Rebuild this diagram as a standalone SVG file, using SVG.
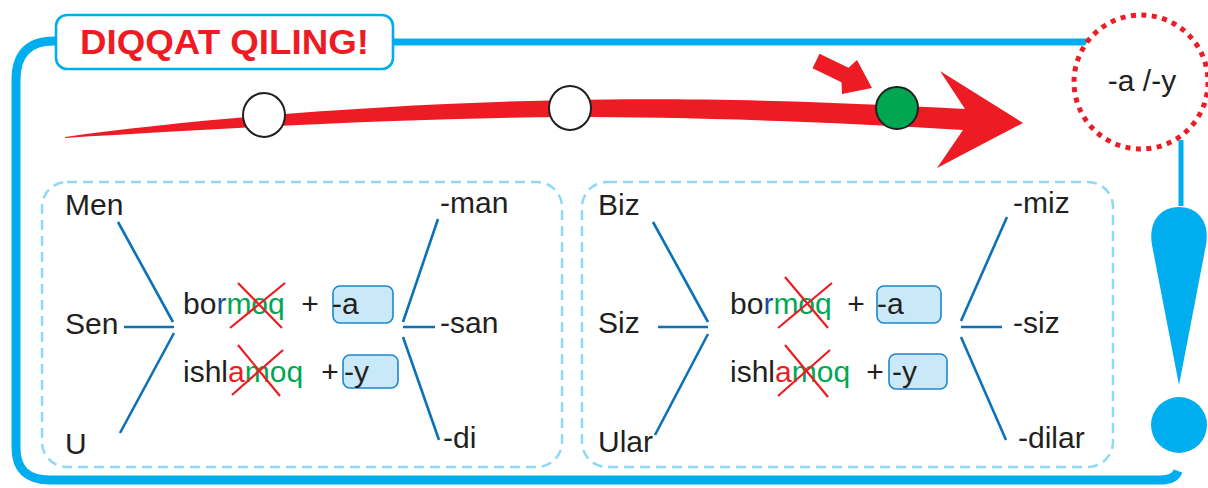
<svg xmlns="http://www.w3.org/2000/svg" width="1208" height="488" viewBox="0 0 1208 488">
<style>
.t{font-family:"Liberation Sans",Arial,sans-serif;font-size:30px;fill:#231f20}
.ln{stroke:#0b72b9;stroke-width:2.6;fill:none;stroke-linecap:butt}
.x{stroke:#ed1c24;stroke-width:2.2;fill:none}
.dash{fill:none;stroke:#8ed8f8;stroke-width:2.5;stroke-dasharray:10 6}
.inbox{fill:#c9e9f8;stroke:#1f86c8;stroke-width:1.6}
.wc{fill:#fff;stroke:#231f20;stroke-width:2}
.g{fill:#00a651}.r{fill:#ed1c24}.b{fill:#1b4f9c}
</style>
<rect width="1208" height="488" fill="#fff"/>
<g id="frame" fill="none" stroke="#00aeef">
<path d="M60,41 L54,41 Q16,41 16,80 L16,448 Q16,480 50,480 L1160,480 Q1175,480 1178,471" stroke-width="9"/>
<path d="M390,42 L1088,42" stroke-width="7"/>
<path d="M1181,140 L1181,206" stroke-width="5"/>
</g>
<g id="title">
<rect x="56" y="15" width="337" height="54" rx="11" fill="#fff" stroke="#00aeef" stroke-width="2.6"/>
<text x="80" y="54" style="font-family:'Liberation Sans',Arial,sans-serif;font-weight:bold;font-size:35px;fill:#ed1c24" textLength="289" lengthAdjust="spacingAndGlyphs">DIQQAT QILING!</text>
</g>
<g id="timeline">
<path d="M65,137 C200,118 400,103 570,100 C680,98 800,100 965,109 L940,71 L1023,123 L937,168 L963,130 C820,121 680,117 570,117 C420,118 260,126 65,138 Z" fill="#ed1c24"/>
<path d="M819.5,53.8 L848.5,67.8 L857,60 L872,88 L842,94 L841.5,82.2 L812.5,68.2 Z" fill="#ed1c24"/>
<ellipse cx="264" cy="115" rx="21" ry="22" class="wc"/>
<ellipse cx="570" cy="108" rx="21" ry="22" class="wc"/>
<circle cx="897" cy="108" r="21" fill="#00a651" stroke="#231f20" stroke-width="2"/>
</g>
<g id="rule">
<circle cx="1141" cy="82" r="67" fill="#fff" stroke="#ed1c24" stroke-width="5" stroke-dasharray="5 5.52"/>
<text x="1142" y="91" text-anchor="middle" class="t" style="font-size:30px">-a /-y</text>
</g>
<g id="exclamation" fill="#00aeef">
<path d="M1179,385 L1152,245 C1148,222 1160,207 1179,207 C1198,207 1210,222 1206,245 Z"/>
<circle cx="1179" cy="425" r="28"/>
</g>
<g id="singular">
<rect x="42" y="182" width="520" height="285" rx="25" class="dash"/>
<text x="65" y="215" class="t">Men</text>
<text x="65" y="334" class="t">Sen</text>
<text x="65" y="454" class="t">U</text>
<text x="183" y="314" class="t">bo<tspan class="b">r</tspan><tspan class="g">moq</tspan></text>
<text x="310" y="314" class="t" text-anchor="middle">+</text>
<rect x="333" y="286" width="60" height="37" rx="7" class="inbox"/>
<text x="332" y="314" class="t">-a</text>
<text x="183" y="382" class="t">ishl<tspan class="r">a</tspan><tspan class="g">moq</tspan></text>
<text x="330" y="382" class="t" text-anchor="middle">+</text>
<rect x="343" y="355" width="55" height="33" rx="7" class="inbox"/>
<text x="344" y="382" class="t">-y</text>
<text x="440" y="213" class="t">-man</text>
<text x="440" y="333" class="t">-san</text>
<text x="443" y="448" class="t">-di</text>
<path class="x" d="M230,328 L285,283 M238,283 L282,328"/>
<path class="x" d="M232,395 L283,350 M238,345 L280,396"/>
</g>
<g id="plural">
<rect x="582" y="182" width="531" height="285" rx="25" class="dash"/>
<text x="598" y="215" class="t">Biz</text>
<text x="598" y="333" class="t">Siz</text>
<text x="598" y="452" class="t">Ular</text>
<text x="730" y="314" class="t">bo<tspan class="b">r</tspan><tspan class="g">moq</tspan></text>
<text x="856" y="314" class="t" text-anchor="middle">+</text>
<rect x="877" y="286" width="64" height="37" rx="7" class="inbox"/>
<text x="877" y="314" class="t">-a</text>
<text x="730" y="382" class="t">ishl<tspan class="r">a</tspan><tspan class="g">moq</tspan></text>
<text x="875" y="382" class="t" text-anchor="middle">+</text>
<rect x="889" y="354" width="58" height="35" rx="7" class="inbox"/>
<text x="892" y="382" class="t">-y</text>
<text x="1013" y="213" class="t">-miz</text>
<text x="1013" y="333" class="t">-siz</text>
<text x="1018" y="448" class="t">-dilar</text>
<path class="x" d="M778,328 L832,283 M785,277 L828,328"/>
<path class="x" d="M778,396 L830,350 M785,345 L828,397"/>
</g>
<g id="connectors" class="ln">
<path class="ln" d="M118,222 L173,322 M124,327 L174,327 M120,433 L174,333"/>
<path class="ln" d="M438,219 L403,322 M403,327 L435,327 M403,337 L439,440"/>
<path class="ln" d="M653,222 L708,322 M658,327 L708,327 M655,435 L708,334"/>
<path class="ln" d="M1007,217 L961,321 M961,327 L1002,327 M961,337 L1006,440"/>
</g>
</svg>
